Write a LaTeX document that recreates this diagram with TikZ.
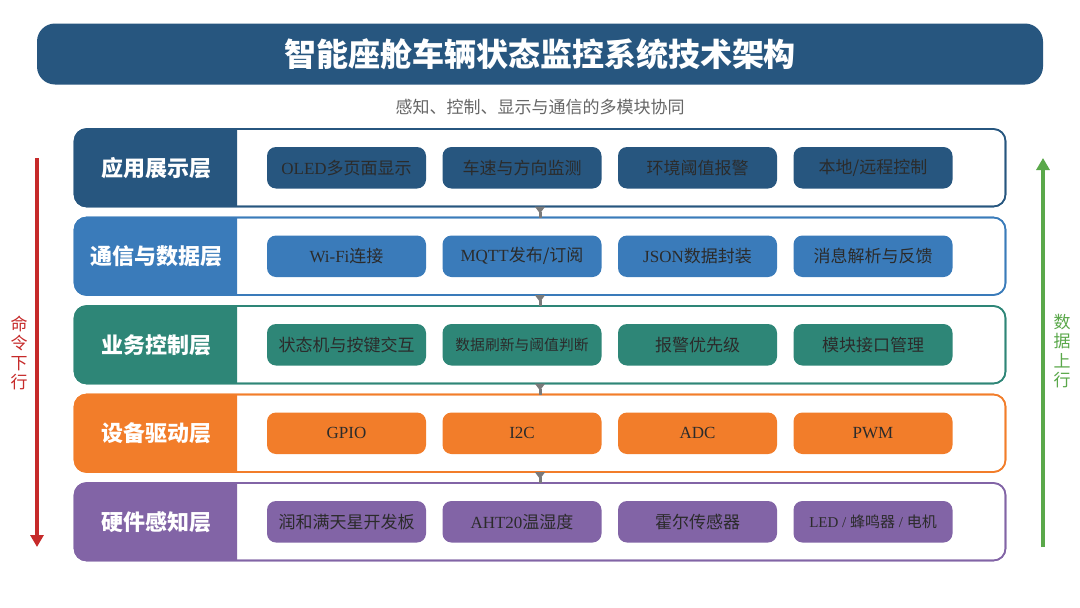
\documentclass[tikz,border=0pt]{standalone}
\usepackage{fontspec}
\setmainfont{Liberation Serif}
\newfontfamily\cjk{Noto Sans CJK SC}
\usetikzlibrary{arrows.meta}
\definecolor{cA}{HTML}{27567F}
\definecolor{cB}{HTML}{3A7BBA}
\definecolor{cC}{HTML}{2E8677}
\definecolor{cD}{HTML}{F27D2A}
\definecolor{cE}{HTML}{8264A6}
\definecolor{itemtext}{HTML}{2B2B2B}
\definecolor{subgray}{HTML}{666666}
\definecolor{conngray}{HTML}{7A7A7A}
\definecolor{cmdred}{HTML}{C62A2A}
\definecolor{datagreen}{HTML}{5AA84A}
\tikzset{
  titlebar/.style={fill=cA, rounded corners=18pt, minimum width=1006pt, minimum height=61pt, inner sep=0pt, outer sep=0pt, text=white, font=\cjk\bfseries\fontsize{32}{36}\selectfont},
  subtitle/.style={text=subgray, font=\cjk\fontsize{17}{20}\selectfont, inner sep=0pt},
  layerbox/.style={fill=white, rounded corners=12pt, line width=1.6pt, minimum width=931pt, minimum height=77.5pt, inner sep=0pt, outer sep=0pt},
  layerlabel/.style={text=white, font=\cjk\bfseries\fontsize{22}{26}\selectfont, inner sep=0pt},
  itembox/.style={rounded corners=9pt, minimum width=159pt, minimum height=41.5pt, inner sep=0pt, outer sep=0pt, text=itemtext, font=\fontsize{17}{20}\selectfont},
  conn/.style={draw=conngray, line width=3pt, {Triangle[reversed, width=10pt, length=7pt]}-},
  sidearrow/.style={line width=3.5pt, -{Triangle[width=13pt, length=12pt]}},
  sidetext/.style={font=\cjk\fontsize{17}{19.5}\selectfont, align=center, inner sep=0pt}
}
\newcommand{\mklayer}[8]{%
  \node[layerbox, draw=#2] (L#1) at (540,#3) {};
  \begin{scope}
    \clip (60,#3-50) rectangle (237,#3+50);
    \fill[#2, rounded corners=12pt] (L#1.north west) rectangle ([xshift=200pt]L#1.south west);
  \end{scope}
  \draw[#2, line width=1.6pt, rounded corners=12pt] (L#1.north west) rectangle (L#1.south east);
  \node[layerlabel] (T#1) at (156,#3) {#4};
  \node[itembox, fill=#2] (I#1a) at (346.5,#3) {#5};
  \node[itembox, fill=#2] (I#1b) at (522,#3) {#6};
  \node[itembox, fill=#2] (I#1c) at (697.5,#3) {#7};
  \node[itembox, fill=#2] (I#1d) at (873,#3) {#8};
}
\begin{document}
\begin{tikzpicture}[x=1pt,y=-1pt]
\useasboundingbox (0,0) rectangle (1080,608);
\fill[white] (0,0) rectangle (1080,608);

\node[titlebar] (title) at (540,54) {智能座舱车辆状态监控系统技术架构};
\node[subtitle] (sub) at (540,107) {感知、控制、显示与通信的多模块协同};

\mklayer{1}{cA}{167.75}{应用展示层}{OLED{\cjk 多页面显示}}{\cjk 车速与方向监测}{\cjk 环境阈值报警}{\cjk 本地/远程控制}
\mklayer{2}{cB}{256.25}{通信与数据层}{Wi-Fi{\cjk 连接}}{MQTT{\cjk 发布/订阅}}{JSON{\cjk 数据封装}}{\cjk 消息解析与反馈}
\mklayer{3}{cC}{344.75}{业务控制层}{\cjk 状态机与按键交互}{\cjk\fontsize{14.8}{18}\selectfont 数据刷新与阈值判断}{\cjk 报警优先级}{\cjk 模块接口管理}
\mklayer{4}{cD}{433.25}{设备驱动层}{GPIO}{I2C}{ADC}{PWM}
\mklayer{5}{cE}{521.75}{硬件感知层}{\cjk 润和满天星开发板}{AHT20{\cjk 温湿度}}{\cjk 霍尔传感器}{\fontsize{15}{18}\selectfont LED / {\cjk 蜂鸣器} / {\cjk 电机}}

\draw[conn] (L1.south) -- (L2.north);
\draw[conn] (L2.south) -- (L3.north);
\draw[conn] (L3.south) -- (L4.north);
\draw[conn] (L4.south) -- (L5.north);

\coordinate (cmdtop) at (37,158);
\coordinate (cmdbot) at (37,547);
\draw[sidearrow, cmdred] (cmdtop) -- (cmdbot);
\node[sidetext, text=cmdred] (cmdlabel) at (19,353) {命\\令\\下\\行};

\coordinate (datbot) at (1043,547);
\coordinate (dattop) at (1043,158);
\draw[sidearrow, datagreen] (datbot) -- (dattop);
\node[sidetext, text=datagreen] (datlabel) at (1062,351) {数\\据\\上\\行};
\end{tikzpicture}
\end{document}
